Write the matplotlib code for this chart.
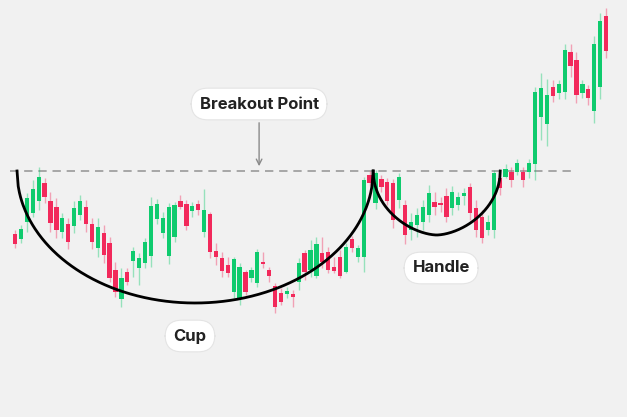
import matplotlib.pyplot as plt
import numpy as np

# OHLC values (arbitrary price units)
opens = [183, 178, 195, 204, 216, 234, 216, 210, 185, 193, 191, 202, 210, 193, 169, 184, 174, 147, 118, 145,
         156, 149, 154, 161, 198, 184, 161, 180, 216, 213, 206, 213, 185, 203, 166, 159, 152, 125, 119, 145,
         139, 134, 155, 147, 131, 124, 123, 123, 135, 164, 147, 141, 164, 165, 150, 160, 145, 178, 160, 160,
         242, 214, 238, 235, 234, 217, 212, 187, 192, 195, 202, 215, 214, 221, 209, 212, 221, 230, 209, 200,
         187, 187, 239, 240, 245, 245, 245, 245, 253, 300, 293, 330, 324, 325, 365, 357, 324, 328, 306, 330, 401]
highs = [187, 192, 224, 237, 250, 239, 225, 219, 204, 199, 216, 222, 217, 199, 199, 192, 180, 155, 149, 149,
         170, 164, 179, 220, 218, 205, 214, 215, 222, 217, 215, 217, 228, 205, 174, 165, 160, 160, 154, 147,
         150, 168, 165, 150, 134, 129, 130, 127, 159, 167, 177, 180, 180, 170, 160, 167, 174, 181, 172, 240,
         246, 247, 242, 239, 238, 244, 217, 204, 209, 217, 232, 225, 220, 229, 231, 225, 229, 234, 217, 207,
         202, 247, 245, 253, 250, 258, 250, 258, 330, 344, 338, 337, 337, 373, 373, 365, 337, 332, 381, 404, 409]
lows = [169, 174, 185, 200, 207, 214, 185, 179, 179, 168, 184, 197, 185, 168, 160, 154, 135, 120, 110, 132,
        140, 132, 149, 150, 193, 179, 153, 175, 208, 187, 200, 202, 180, 159, 152, 140, 140, 119, 112, 122,
        135, 130, 149, 135, 104, 112, 119, 110, 127, 137, 140, 139, 149, 144, 144, 139, 144, 165, 155, 145,
        231, 208, 225, 212, 189, 209, 173, 177, 180, 187, 195, 202, 205, 195, 202, 207, 212, 197, 180, 174,
        182, 179, 222, 239, 230, 242, 230, 239, 237, 277, 271, 315, 318, 318, 340, 314, 319, 312, 294, 318, 359]
closes = [173, 188, 219, 228, 240, 220, 194, 187, 199, 175, 209, 216, 193, 175, 190, 162, 139, 125, 139, 135,
          166, 159, 175, 211, 213, 199, 210, 212, 210, 191, 211, 207, 207, 165, 160, 146, 144, 158, 150, 125,
          147, 165, 153, 141, 110, 115, 126, 120, 154, 145, 167, 173, 155, 147, 146, 141, 170, 169, 169, 237,
          234, 244, 230, 216, 197, 240, 182, 195, 202, 210, 224, 210, 212, 200, 225, 220, 224, 204, 187, 179,
          195, 244, 229, 248, 237, 254, 237, 254, 325, 329, 322, 321, 333, 367, 351, 322, 333, 319, 373, 396, 366]

breakout_level = 246
labels = ["Breakout Point", "Cup", "Handle"]

green = "#0fcb6e"
red = "#f2295b"
bg = "#f1f1f1"

fig = plt.figure(figsize=(6.27, 4.17), dpi=100, facecolor=bg)
ax = fig.add_axes([0, 0, 1, 1])
ax.set_facecolor(bg)
ax.axis("off")

x = np.arange(len(opens))
o = np.array(opens)
c = np.array(closes)
up = c >= o
colors = np.where(up, green, red)

# wicks
ax.vlines(x, lows, highs, colors=colors, linewidth=1.0, alpha=0.4, zorder=2)
# bodies
ax.bar(x, np.abs(c - o) + 0.6, bottom=np.minimum(o, c) - 0.3, width=0.72,
       color=colors, linewidth=0, zorder=3)

# resistance line
ax.plot([-0.85, 94], [breakout_level, breakout_level], color="#9a9a9a",
        linewidth=1.2, dashes=(5, 3.5), zorder=1)

# cup and handle outlines
cup_l, cup_r, cup_depth = 0.34, 60.6, 132
t = np.linspace(-1, 1, 300)
cx = (cup_l + cup_r) / 2 + t * (cup_r - cup_l) / 2
ax.plot(cx, breakout_level - cup_depth * np.sqrt(1 - t ** 2), color="black", linewidth=2, zorder=4)

h_l, h_r, h_depth = 60.6, 82.1, 64
hx = (h_l + h_r) / 2 + t * (h_r - h_l) / 2
ax.plot(hx, breakout_level - h_depth * np.sqrt(1 - np.abs(t) ** 1.7), color="black", linewidth=2, zorder=4)

box = dict(boxstyle="round,pad=0.5,rounding_size=1.0", facecolor="white", edgecolor="#e4e4e4", linewidth=0.8)
font = dict(family="Inter", fontweight="bold", color="#222222", fontsize=12)

ax.annotate("", xy=(41.3, breakout_level + 2), xytext=(41.3, 297),
            arrowprops=dict(arrowstyle="->", color="#8a8a8a", linewidth=1.0), zorder=5)
ax.text(41.3, 313, labels[0], ha="center", va="center", bbox=box, zorder=6, **font)
ax.text(29.6, 81, labels[1], ha="center", va="center", bbox=box, zorder=6, **font)
ax.text(72.1, 149, labels[2], ha="center", va="center", bbox=box, zorder=6, **font)

ax.set_xlim(-2.54, 103.55)
ax.set_ylim(0, 417)

fig.savefig("out.png", dpi=100, facecolor=bg)
